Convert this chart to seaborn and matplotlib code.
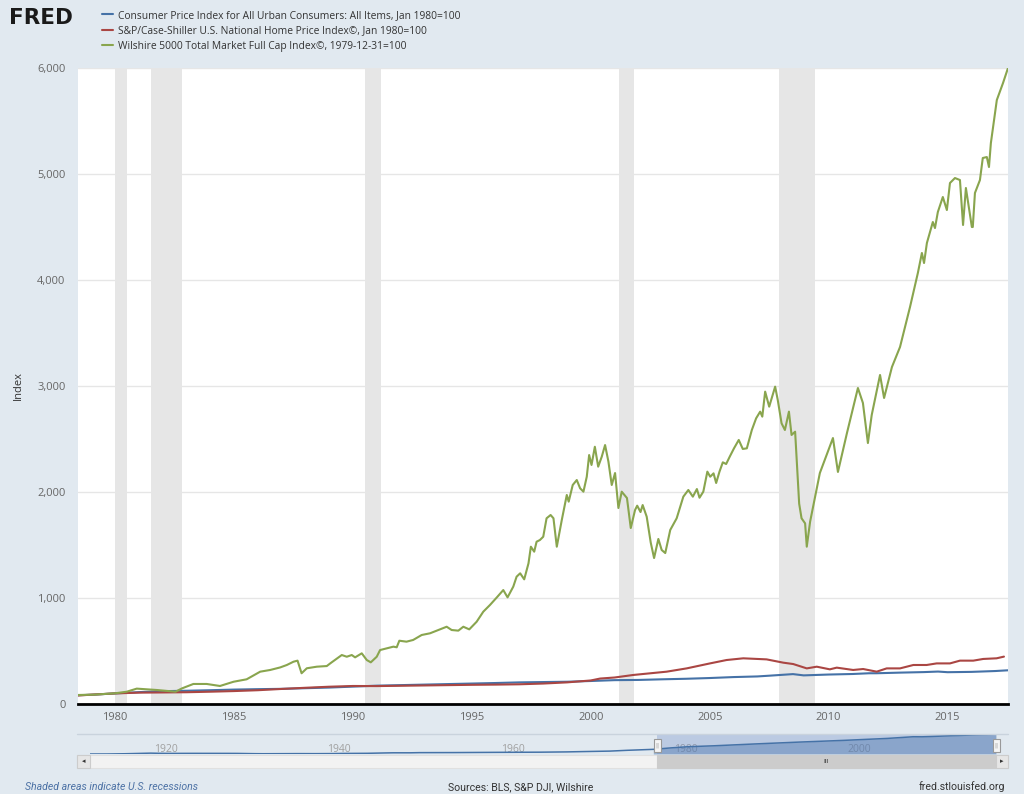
import numpy as np
import pandas as pd
import matplotlib
matplotlib.use("Agg")
import matplotlib.pyplot as plt
import seaborn as sns
from matplotlib.patches import Rectangle
from matplotlib.lines import Line2D
from matplotlib.ticker import FuncFormatter

# series names and colours (FRED / Highcharts defaults)
series_names = [
    "Consumer Price Index for All Urban Consumers: All Items, Jan 1980=100",
    "S&P/Case-Shiller U.S. National Home Price Index©, Jan 1980=100",
    "Wilshire 5000 Total Market Full Cap Index©, 1979-12-31=100",
]
series_colors = ["#4572a7", "#aa4643", "#89a54e"]

# CPI, Jan 1980 = 100
cpi_years = [1978.44, 1979.0, 1980.0, 1981.0, 1982.0, 1983.0, 1984.0, 1985.0, 1986.0,
             1987.0, 1988.0, 1989.0, 1990.0, 1991.0, 1992.0, 1993.0, 1994.0, 1995.0,
             1996.0, 1997.0, 1998.0, 1999.0, 2000.0, 2001.0, 2002.0, 2003.0, 2004.0,
             2005.0, 2006.0, 2007.0, 2007.5, 2008.5, 2008.95, 2010.0, 2011.0, 2011.7,
             2012.0, 2013.0, 2014.0, 2014.6, 2015.0, 2016.0, 2017.0, 2017.54]
cpi_values = [83, 87, 100, 112, 121, 125, 130, 136, 140,
              143, 149, 155, 164, 173, 178, 183, 188, 193,
              198, 204, 207, 210, 217, 225, 227, 233, 238,
              245, 254, 260, 267, 282, 270, 278, 283, 290,
              290, 296, 301, 306, 300, 303, 311, 318]

# Case-Shiller, Jan 1980 = 100
hpi_years = [1978.44, 1979.0, 1980.0, 1981.0, 1982.0, 1983.0, 1984.0, 1985.0, 1986.0,
             1987.0, 1988.0, 1989.0, 1990.0, 1991.0, 1992.0, 1993.0, 1994.0, 1995.0,
             1996.0, 1997.0, 1998.0, 1999.0, 2000.0, 2000.39, 2001.0, 2001.79, 2003.19,
             2004.03, 2005.01, 2005.71, 2006.41, 2007.39, 2008.09, 2008.51, 2009.08,
             2009.5, 2010.05, 2010.34, 2011.03, 2011.45, 2012.02, 2012.44, 2013.0,
             2013.56, 2014.12, 2014.54, 2015.1, 2015.52, 2016.08, 2016.5, 2017.06, 2017.37]
hpi_values = [80, 88, 100, 107, 109, 111, 116, 122, 130,
              142, 153, 163, 170, 169, 172, 175, 178, 181,
              183, 186, 193, 204, 222, 240, 250, 274, 305,
              336, 383, 415, 431, 421, 390, 377, 336,
              352, 327, 343, 321, 330, 305, 336, 336,
              368, 368, 383, 383, 409, 409, 425, 431, 447]

# Wilshire 5000, 1979-12-31 = 100
wil_years = [1978.44, 1979.09, 1980.0, 1980.49, 1980.91, 1981.33, 1981.76, 1982.18, 1982.54,
             1982.82, 1983.29, 1983.85, 1984.41, 1984.98, 1985.53, 1986.1, 1986.52, 1986.94,
             1987.22, 1987.5, 1987.67, 1987.84, 1988.06, 1988.48, 1988.9, 1989.05, 1989.53,
             1989.74, 1989.95, 1990.09, 1990.37, 1990.58, 1990.75, 1991.0, 1991.14, 1991.42,
             1991.7, 1991.84, 1991.95, 1992.25, 1992.53, 1992.89, 1993.24, 1993.59, 1993.94,
             1994.15, 1994.43, 1994.64, 1994.89, 1995.2, 1995.48, 1995.76, 1996.05, 1996.32,
             1996.5, 1996.74, 1996.88, 1997.03, 1997.2, 1997.38, 1997.48, 1997.62, 1997.72,
             1997.86, 1998.0, 1998.14, 1998.31, 1998.43, 1998.57, 1998.78, 1998.99, 1999.07,
             1999.24, 1999.41, 1999.55, 1999.69, 1999.83, 1999.93, 2000.03, 2000.17, 2000.31,
             2000.46, 2000.6, 2000.74, 2000.88, 2001.02, 2001.16, 2001.3, 2001.52, 2001.68,
             2001.86, 2001.95, 2002.09, 2002.18, 2002.35, 2002.52, 2002.66, 2002.84, 2002.98,
             2003.13, 2003.34, 2003.61, 2003.89, 2004.1, 2004.29, 2004.46, 2004.57, 2004.73,
             2004.9, 2005.02, 2005.16, 2005.27, 2005.41, 2005.55, 2005.69, 2005.84, 2006.02,
             2006.22, 2006.39, 2006.56, 2006.77, 2006.95, 2007.12, 2007.21, 2007.33, 2007.5,
             2007.75, 2007.86, 2008.02, 2008.16, 2008.33, 2008.44, 2008.59, 2008.76, 2008.86,
             2009.01, 2009.08, 2009.22, 2009.36, 2009.63, 2010.18, 2010.39, 2010.77, 2011.23,
             2011.44, 2011.65, 2011.81, 2012.16, 2012.33, 2012.66, 2013.0, 2013.21, 2013.42,
             2013.75, 2013.92, 2014.01, 2014.13, 2014.38, 2014.47, 2014.59, 2014.8, 2014.97,
             2015.1, 2015.31, 2015.52, 2015.65, 2015.77, 2016.02, 2016.06, 2016.15, 2016.36,
             2016.48, 2016.65, 2016.74, 2016.82, 2017.07, 2017.33, 2017.54]
wil_values = [85, 88, 101, 116, 145, 139, 132, 123, 116,
              148, 189, 189, 170, 210, 233, 305, 321, 345,
              368, 399, 409, 290, 337, 352, 358, 384, 462,
              446, 462, 440, 478, 415, 393, 446, 509, 525,
              541, 535, 597, 588, 604, 651, 667, 698, 729,
              698, 692, 729, 704, 776, 871, 934, 1006, 1075,
              1006, 1107, 1201, 1233, 1176, 1327, 1484, 1437, 1531,
              1547, 1578, 1752, 1783, 1752, 1484, 1736, 1972, 1909,
              2066, 2113, 2035, 2003, 2144, 2349, 2255, 2427, 2239,
              2333, 2443, 2287, 2066, 2179, 1849, 2003, 1943, 1660,
              1830, 1871, 1811, 1877, 1767, 1522, 1377, 1557, 1453,
              1424, 1642, 1752, 1956, 2019, 1956, 2028, 1946, 2003,
              2192, 2144, 2176, 2085, 2192, 2280, 2264, 2333, 2412,
              2491, 2406, 2412, 2585, 2695, 2758, 2711, 2947, 2805,
              2994, 2868, 2648, 2585, 2758, 2538, 2569, 1890, 1752,
              1704, 1484, 1720, 1877, 2179, 2509, 2189, 2557, 2981,
              2840, 2462, 2726, 3104, 2887, 3179, 3368, 3557, 3745,
              4066, 4255, 4160, 4349, 4547, 4490, 4641, 4783, 4660,
              4915, 4962, 4943, 4519, 4868, 4500, 4500, 4821, 4943,
              5151, 5160, 5066, 5292, 5698, 5858, 6000]

# NBER recessions (start, end) in decimal years
recessions = [(1980.0, 1980.5), (1981.5, 1982.83), (1990.5, 1991.17),
              (2001.17, 2001.83), (2007.92, 2009.42)]

x_ticks = [1980, 1985, 1990, 1995, 2000, 2005, 2010, 2015]
y_ticks = [0, 1000, 2000, 3000, 4000, 5000, 6000]
view_start, view_end = 1978.44, 2017.54

# navigator: long CPI history (raw index)
nav_years = [1913, 1915, 1917, 1918, 1920, 1921, 1922, 1925, 1929, 1930, 1932, 1933,
             1937, 1939, 1941, 1942, 1945, 1947, 1948, 1950, 1951, 1955, 1960, 1965,
             1968, 1970, 1973, 1975, 1978, 1980, 1982, 1985, 1990, 1995, 2000, 2005,
             2008, 2009, 2010, 2015, 2017.54]
nav_cpi = [9.8, 10.1, 12.8, 15.1, 20.0, 17.9, 16.8, 17.5, 17.1, 16.7, 13.7, 13.0,
           14.4, 13.9, 14.7, 16.3, 18.0, 22.3, 24.1, 24.1, 26.0, 26.8, 29.6, 31.5,
           34.8, 38.8, 44.4, 53.8, 65.2, 82.4, 96.5, 107.6, 130.7, 152.4, 172.2, 195.3,
           215.3, 214.5, 218.1, 237.0, 245.5]
nav_labels = [1920, 1940, 1960, 1980, 2000]

frames = []
for name, yrs, vals in zip(series_names, [cpi_years, hpi_years, wil_years],
                           [cpi_values, hpi_values, wil_values]):
    frames.append(pd.DataFrame({"year": yrs, "value": vals, "series": name}))
df = pd.concat(frames, ignore_index=True)

sns.set_theme(style="white")
plt.rcParams["font.family"] = ["Open Sans", "DejaVu Sans"]

W, H = 1024, 794
BG = "#e1e9f0"
fig = plt.figure(figsize=(W / 100, H / 100), dpi=100)
fig.patch.set_facecolor(BG)


def box(x0, y0, x1, y1):
    # pixel box (top-left origin) -> figure fraction rect
    return [x0 / W, 1 - y1 / H, (x1 - x0) / W, (y1 - y0) / H]


def rect(x0, y0, x1, y1, **kw):
    b = box(x0, y0, x1, y1)
    fig.add_artist(Rectangle((b[0], b[1]), b[2], b[3], transform=fig.transFigure, **kw))


# main chart
ax = fig.add_axes(box(78, 68, 1008, 704))
ax.set_facecolor("white")
for s, e in recessions:
    ax.axvspan(s, e, color="#e6e6e6", lw=0, zorder=0)
sns.lineplot(data=df, x="year", y="value", hue="series", hue_order=series_names,
             palette=dict(zip(series_names, series_colors)), estimator=None,
             sort=True, linewidth=1.5, legend=False, ax=ax)
ax.set_xlim(view_start, view_end)
ax.set_ylim(0, 6000)
ax.set_xticks(x_ticks)
ax.set_yticks(y_ticks)
ax.yaxis.set_major_formatter(FuncFormatter(lambda v, p: f"{int(v):,}"))
ax.yaxis.grid(True, color="#e6e6e6", lw=1)
ax.set_axisbelow(True)
ax.tick_params(axis="both", length=0, labelsize=8, colors="#666666")
ax.tick_params(axis="x", pad=6)
ax.tick_params(axis="y", pad=9)
for sp in ["top", "left", "right"]:
    ax.spines[sp].set_visible(False)
ax.spines["bottom"].set_color("black")
ax.spines["bottom"].set_linewidth(2)
ax.spines["bottom"].set_zorder(5)
ax.set_xlabel("")
ax.set_ylabel("")

fig.text(18 / W, 1 - 386 / H, "Index", rotation=90, ha="center", va="center",
         fontsize=8, color="#333333")

# header: logo + legend
fig.text(9 / W, 1 - 18 / H, "FRED", fontsize=15.5, fontweight="bold", color="#1a1a1a",
         ha="left", va="center", family=["DejaVu Sans"])
handles = ax.get_lines()[:3]
fig.legend(handles, series_names, loc="upper left", bbox_to_anchor=(102 / W, 1 - 10 / H),
           frameon=False, fontsize=7.4, handlelength=1.1, handletextpad=0.45,
           labelspacing=0.42, borderpad=0, borderaxespad=0, labelcolor="#333333")

# navigator
nav = fig.add_axes(box(90, 734, 996, 754))
nav.set_xlim(1913, 2017.54)
nav.set_ylim(min(nav_cpi), max(nav_cpi) * 1.01)
nav.axis("off")
nav.patch.set_alpha(0)
nav_years_arr = np.array(nav_years)
nav.fill_between(nav_years, nav_cpi, min(nav_cpi), where=nav_years_arr >= 1978,
                 color="#4572a7", alpha=0.45, lw=0)
sns.lineplot(x=nav_years, y=nav_cpi, color="#4572a7", linewidth=1.1, ax=nav)
nav.axvspan(view_start, view_end, color="#6685c2", alpha=0.3, lw=0)
for yr in nav_labels:
    nav.annotate(str(yr), (yr, 0.25), xycoords=("data", "axes fraction"),
                 xytext=(2.5, 0), textcoords="offset points", fontsize=7.5,
                 color="#a0a0a0", ha="left", va="center", zorder=0)

fig.add_artist(Line2D([77 / W, 1008 / W], [1 - 734 / H] * 2, color="#c9d3dd", lw=1,
                      transform=fig.transFigure))

# selection pixel positions from navigator scale
sx0 = nav.transData.transform((view_start, 0))[0]
sx1 = nav.transData.transform((view_end, 0))[0]

# scrollbar
rect(77, 755, 1008, 768, facecolor="#f2f2f2", edgecolor="#e0e0e0", lw=0.8)
rect(sx0, 755, sx1, 768, facecolor="#cccccc", edgecolor="#cccccc", lw=0.8)
rect(77, 755, 90, 768, facecolor="#e6e6e6", edgecolor="#cccccc", lw=0.8)
rect(996, 755, 1008, 768, facecolor="#e6e6e6", edgecolor="#cccccc", lw=0.8)
fig.text(83.5 / W, 1 - 761.5 / H, "◂", fontsize=5, ha="center", va="center", color="#333333",
         family=["DejaVu Sans"])
fig.text(1002 / W, 1 - 761.5 / H, "▸", fontsize=5, ha="center", va="center", color="#333333",
         family=["DejaVu Sans"])
fig.text((sx0 + sx1) / 2 / W, 1 - 761.5 / H, "III", fontsize=4.5, ha="center", va="center",
         color="#333333", family=["DejaVu Sans"])

# navigator handles
for hx in [sx0, sx1]:
    rect(hx - 3.5, 739, hx + 3.5, 752, facecolor="#f5f5f5", edgecolor="#999999", lw=0.8)
    fig.text(hx / W, 1 - 745.5 / H, "||", fontsize=4, ha="center", va="center",
             color="#888888", family=["DejaVu Sans"])

# footer
foot = ["Roboto", "DejaVu Sans"]
fig.text(25 / W, 1 - 787 / H, "Shaded areas indicate U.S. recessions", fontsize=7.6,
         style="italic", color="#4d72a5", ha="left", va="center", family=foot)
fig.text(521 / W, 1 - 787 / H, "Sources: BLS, S&P DJI, Wilshire", fontsize=7.6,
         color="#333333", ha="center", va="center", family=foot)
fig.text(1005 / W, 1 - 787 / H, "fred.stlouisfed.org", fontsize=7.6,
         color="#333333", ha="right", va="center", family=foot)

fig.savefig("out.png", dpi=100, facecolor=BG)
